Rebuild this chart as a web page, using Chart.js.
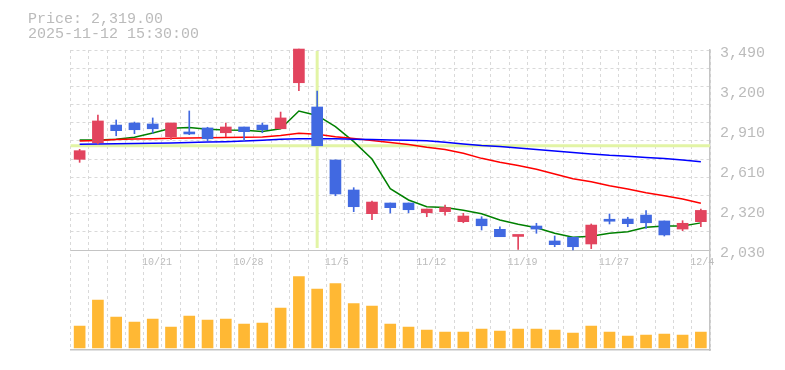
<!DOCTYPE html>
<html><head><meta charset="utf-8">
<script src="https://cdn.jsdelivr.net/npm/chart.js@4.4.1/dist/chart.umd.min.js"></script>
<style>html,body{margin:0;padding:0;background:#fff;}canvas{display:block;}</style>
</head><body>
<canvas id="c" width="785" height="370"></canvas>
<script>
// ---- data ----
const dates = ['10/15','10/16','10/17','10/20','10/21','10/22','10/23','10/24','10/27','10/28',
  '10/29','10/30','10/31','11/4','11/5','11/6','11/7','11/10','11/11','11/12',
  '11/13','11/14','11/17','11/18','11/19','11/20','11/21','11/25','11/26','11/27',
  '11/28','12/1','12/2','12/3','12/4'];
const opens  = [2692,2813,2942,2957,2950,2857,2886,2921,2886,2928,2942,2915,3251,3074,2687,2468,2295,2373,2373,2302,
  2310,2237,2256,2181,2129,2205,2096,2123,2074,2249,2256,2285,2242,2183,2237];
const highs  = [2765,3015,2979,2964,2994,2957,3045,2926,2957,2928,2957,3037,3497,3191,2687,2485,2388,2373,2373,2329,
  2358,2298,2273,2200,2132,2225,2132,2123,2220,2293,2269,2317,2242,2244,2329];
const lows   = [2670,2804,2864,2879,2882,2838,2872,2828,2857,2826,2886,2915,3193,2791,2426,2310,2251,2300,2302,2273,
  2285,2229,2176,2127,2035,2152,2054,2030,2040,2220,2200,2188,2132,2171,2200];
const closes = [2755,2972,2901,2908,2915,2957,2877,2842,2928,2894,2908,2994,3497,2791,2439,2346,2380,2339,2324,2329,
  2340,2278,2207,2127,2132,2183,2069,2054,2212,2240,2222,2229,2140,2225,2319];
const volumes = [220000,480000,310000,260000,290000,210000,320000,280000,290000,240000,250000,400000,713000,590000,643000,
  443000,420000,240000,210000,180000,160000,160000,190000,170000,190000,190000,180000,150000,220000,160000,
  120000,130000,140000,130000,160000];
const maShort = [2833,2833,2838,2853,2884,2918,2924,2911,2906,2904,2895,2915,3045,3012,2930,2821,2694,2478,2395,2346,
  2340,2320,2295,2249,2218,2193,2152,2123,2130,2152,2164,2196,2206,2206,2228];
const maMid = [2826,2829,2837,2840,2843,2845,2848,2849,2852,2853,2855,2866,2882,2875,2857,2844,2829,2815,2800,2780,
  2764,2736,2699,2670,2647,2619,2585,2550,2529,2499,2475,2448,2426,2402,2371];
const maLong = [2802,2803,2805,2808,2810,2812,2815,2818,2821,2826,2831,2838,2842,2843,2843,2839,2836,2833,2831,2828,
  2816,2804,2793,2786,2775,2764,2753,2742,2731,2721,2714,2705,2698,2687,2675];
const yMin = 2030, yMax = 3490;
const yLabelTicks = [2030, 2322, 2614, 2906, 3198, 3490];
const yLabelText = ['2,030','2,320','2,610','2,910','3,200','3,490'];
const yGridDivisions = 11;
const xLabelIdx = [4, 9, 14, 19, 24, 29, 34];
const crossIdx = 13;
const headerLines = ['Price: 2,319.00', '2025-11-12 15:30:00'];
const volMin = -20000, volMax = 980000;

// ---- styles ----
const RED = '#e2445e', BLUE = '#4169e1', VOL = '#ffb834';
const GRID = '#d9d9d9', AXIS = '#c4c4c4', TXT = '#bbbbbb', CROSS = '#e2f4a5';
const MONO = '"Liberation Mono", "DejaVu Sans Mono", monospace';

const gridVals = [];
for (let k = 0; k <= yGridDivisions; k++) gridVals.push(yMin + k * (yMax - yMin) / yGridDivisions);
const allTicks = [...gridVals];
yLabelTicks.forEach(v => { if (!allTicks.some(g => Math.abs(g - v) < 0.01)) allTicks.push(v); });
allTicks.sort((a, b) => a - b);
const isGrid = v => gridVals.some(g => Math.abs(g - v) < 0.01);
const labelFor = v => { const k = yLabelTicks.findIndex(t => Math.abs(t - v) < 0.01); return k >= 0 ? yLabelText[k] : ''; };

const candleColors = closes.map((c, i) => c >= opens[i] ? RED : BLUE);

const overlay = {
  id: 'overlay',
  beforeDatasetsDraw(chart) {
    const {ctx, chartArea} = chart;
    const xs = chart.scales.x, ys = chart.scales.y;
    const cx = xs.getPixelForValue(crossIdx);
    const cy = ys.getPixelForValue(closes[crossIdx]);
    ctx.save();
    ctx.strokeStyle = CROSS; ctx.lineWidth = 3;
    ctx.beginPath(); ctx.moveTo(chartArea.left, cy); ctx.lineTo(chartArea.right, cy); ctx.stroke();
    ctx.beginPath(); ctx.moveTo(cx, ys.top + 1); ctx.lineTo(cx, ys.bottom - 2); ctx.stroke();
    ctx.restore();
  },
  afterDraw(chart) {
    const {ctx} = chart;
    const xs = chart.scales.x, ys = chart.scales.y;
    const half = (xs.getPixelForValue(1) - xs.getPixelForValue(0)) / 2;
    ctx.save();
    ctx.fillStyle = TXT;
    ctx.font = '10px ' + MONO;
    ctx.textAlign = 'left'; ctx.textBaseline = 'middle';
    xLabelIdx.forEach(i => ctx.fillText(dates[i], xs.getPixelForValue(i) - half - 1.5, ys.bottom + 12));
    ctx.font = '15px ' + MONO;
    ctx.textBaseline = 'alphabetic';
    ctx.fillText(headerLines[0], 28, 22.5);
    ctx.fillText(headerLines[1], 28, 37.5);
    ctx.restore();
  }
};

new Chart(document.getElementById('c'), {
  type: 'bar',
  data: {
    labels: dates,
    datasets: [
      { type: 'bar', data: volumes, yAxisID: 'yv', backgroundColor: VOL, barThickness: 11, grouped: false, order: 5 },
      { type: 'line', data: maLong, yAxisID: 'y', borderColor: '#0000ff', borderWidth: 1.5, pointRadius: 0, tension: 0, order: 4 },
      { type: 'line', data: maMid, yAxisID: 'y', borderColor: '#ff0000', borderWidth: 1.5, pointRadius: 0, tension: 0, order: 4 },
      { type: 'line', data: maShort, yAxisID: 'y', borderColor: '#008000', borderWidth: 1.5, pointRadius: 0, tension: 0, order: 4 },
      { type: 'bar', data: lows.map((l, i) => [l, highs[i]]), yAxisID: 'y', backgroundColor: candleColors, barThickness: 1, grouped: false, clip: false, order: 2 },
      { type: 'bar', data: opens.map((o, i) => [o, closes[i]]), yAxisID: 'y', backgroundColor: candleColors, barThickness: 11, grouped: false, minBarLength: 2, clip: false, order: 1 }
    ]
  },
  options: {
    responsive: false,
    animation: false,
    devicePixelRatio: 1,
    layout: { padding: { left: 70.5, right: 0, top: 50, bottom: 20 } },
    plugins: { legend: { display: false }, tooltip: { enabled: false } },
    scales: {
      x: {
        type: 'category', offset: true,
        afterFit: s => { s.height = 0; },
        ticks: { display: false },
        grid: { offset: true, drawTicks: false, color: GRID, lineWidth: 1 },
        border: { display: true, color: AXIS, width: 1.5, dash: [3, 3] }
      },
      y: {
        type: 'linear', position: 'right', stack: 'right', stackWeight: 2, min: yMin, max: yMax,
        afterBuildTicks: s => { s.ticks = allTicks.map(v => ({ value: v })); },
        afterFit: s => { s.width = 75; },
        ticks: { autoSkip: false, padding: 10, labelOffset: 3, color: TXT, font: { family: MONO, size: 15 },
          callback: v => labelFor(v) },
        grid: { drawTicks: false, lineWidth: 1,
          color: c => (c.tick && isGrid(c.tick.value)) ? (Math.abs(c.tick.value - yMin) < 0.01 ? AXIS : GRID) : 'rgba(0,0,0,0)' },
        border: { display: true, color: AXIS, width: 1.5,
          dash: c => (c.tick && Math.abs(c.tick.value - yMin) > 0.01) ? [3, 3] : [] }
      },
      yv: {
        type: 'linear', position: 'right', stack: 'right', stackWeight: 1, min: volMin, max: volMax,
        afterFit: s => { s.width = 75; },
        ticks: { display: false },
        grid: { display: false },
        border: { display: true, color: AXIS, width: 1.5 }
      }
    }
  },
  plugins: [overlay]
});
</script>
</body></html>
